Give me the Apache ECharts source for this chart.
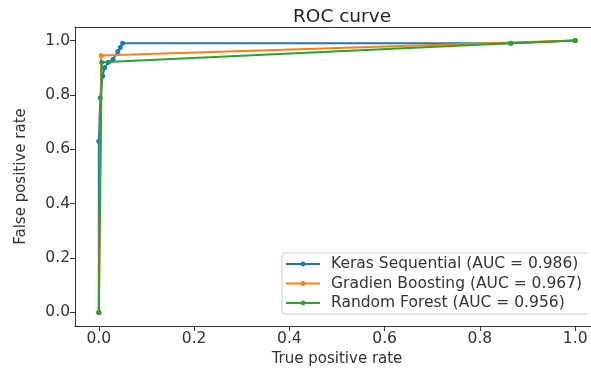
<!DOCTYPE html>
<html>
<head>
<meta charset="utf-8">
<script src="https://cdn.jsdelivr.net/npm/echarts@6/dist/echarts.min.js"></script>
<style>html,body{margin:0;padding:0;background:#fff;overflow:hidden}#c{width:591px;height:374px}</style>
</head>
<body>
<div id="c"></div>
<script>
const titleText = 'ROC curve';
const xName = 'True positive rate';
const yName = 'False positive rate';
const tickValues = [0, 0.2, 0.4, 0.6, 0.8, 1.0];
const seriesNames = ['Keras Sequential (AUC = 0.986)', 'Gradien Boosting (AUC = 0.967)', 'Random Forest (AUC = 0.956)'];
const kerasX = [0, 0, 0.003, 0.008, 0.012, 0.02, 0.03, 0.04, 0.045, 0.05, 0.865, 1];
const kerasY = [0, 0.63, 0.79, 0.87, 0.90, 0.92, 0.93, 0.96, 0.975, 0.99, 0.99, 1];
const gbX = [0, 0.005, 1];
const gbY = [0, 0.945, 1];
const rfX = [0, 0.006, 0.865, 1];
const rfY = [0, 0.92, 0.99, 1];
const colors = ['#1f77b4', '#ff7f0e', '#2ca02c'];

function pairs(xs, ys) { return xs.map((x, i) => [x, ys[i]]); }
const chart = echarts.init(document.getElementById('c'), null, {renderer: 'canvas'});
const font = 'DejaVu Sans';
const allData = [pairs(kerasX, kerasY), pairs(gbX, gbY), pairs(rfX, rfY)];
const axisCommon = {
  type: 'value', min: -0.05, max: 1.05,
  axisLine: {show: true, onZero: false, lineStyle: {color: '#333', width: 1}},
  axisTick: {show: true, inside: false, length: 5, lineStyle: {color: '#333', width: 1}, customValues: tickValues},
  axisLabel: {color: '#333', fontFamily: font, fontSize: 15.5, formatter: v => v.toFixed(1), customValues: tickValues, margin: 5},
  splitLine: {show: false},
  nameLocation: 'middle',
  nameTextStyle: {color: '#333', fontFamily: font, fontSize: 15}
};
chart.setOption({
  animation: false,
  backgroundColor: '#fff',
  title: {text: titleText, left: 337, top: 3, textAlign: 'center',
    textStyle: {fontFamily: font, fontSize: 18.5, fontWeight: 'normal', color: '#222'}},
  grid: {left: 75, top: 27, width: 524, height: 299, show: false, containLabel: false, outerBoundsMode: 'none'},
  xAxis: [
    Object.assign({}, axisCommon, {name: xName, nameGap: 22, position: 'bottom'}),
    {type: 'value', min: -0.05, max: 1.05, position: 'top',
     axisLine: {show: true, onZero: false, lineStyle: {color: '#333', width: 1}},
     axisTick: {show: false}, axisLabel: {show: false}, splitLine: {show: false}}
  ],
  yAxis: Object.assign({}, axisCommon, {name: yName, nameGap: 46, position: 'left'}),
  legend: {
    orient: 'vertical', left: 282, top: 253,
    itemWidth: 34, itemHeight: 6, itemGap: 3.5,
    padding: [3, 8, 3, 3],
    borderColor: '#ccc', borderWidth: 1, borderRadius: 3, backgroundColor: 'rgba(255,255,255,0.8)',
    textStyle: {fontFamily: font, fontSize: 15.5, color: '#333', padding: [0, 0, 0, 6]},
    data: seriesNames
  },
  graphic: [{type: 'rect', right: 0, top: 28, z: 100, shape: {width: 3, height: 297}, style: {fill: '#fff'}}],
  series: seriesNames.map((n, i) => ({
    name: n, type: 'line', data: allData[i],
    xAxisIndex: 0, yAxisIndex: 0,
    color: colors[i],
    lineStyle: {width: 2, color: colors[i]},
    itemStyle: {color: colors[i]},
    symbol: 'circle', symbolSize: 5, showSymbol: true,
    z: 2 + i
  }))
});
</script>
</body>
</html>
